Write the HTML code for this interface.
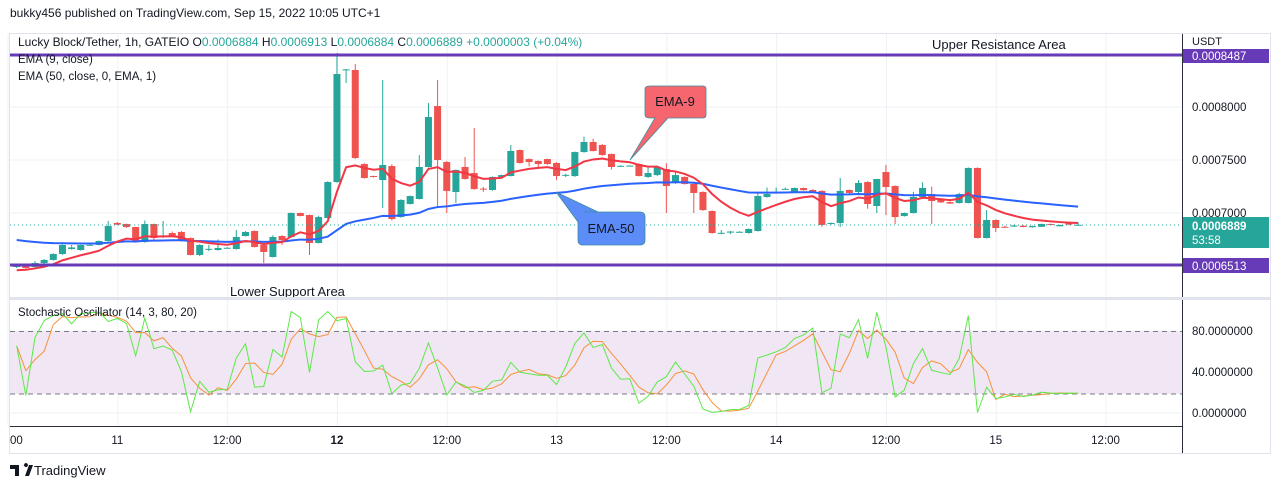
<!DOCTYPE html>
<html><head><meta charset="utf-8"><style>
html,body{margin:0;padding:0;background:#fff;width:1280px;height:489px;overflow:hidden}
svg text{font-family:"Liberation Sans","DejaVu Sans",sans-serif}
</style></head><body>
<svg id="c" width="1280" height="489" viewBox="0 0 1280 489" xmlns="http://www.w3.org/2000/svg">
<rect x="0" y="0" width="1280" height="489" fill="#fff"/>
<text x="10" y="17" font-size="12" fill="#131722">bukky456 published on TradingView.com, Sep 15, 2022 10:05 UTC+1</text>
<rect x="9.5" y="33.5" width="1261" height="420" fill="none" stroke="#e0e3eb"/>
<g id="grid"></g>
<rect x="10" y="331.5" width="1172" height="62.5" fill="#f1e6f3"/>
<line x1="10" x2="1182" y1="331.5" y2="331.5" stroke="#787b86" stroke-dasharray="5,4"/>
<line x1="10" x2="1182" y1="394" y2="394" stroke="#787b86" stroke-dasharray="5,4"/>
<g id="candles"></g>
<g id="emas"></g>
<g id="stoch"></g>
<line x1="10" x2="1182" y1="55" y2="55" stroke="#673ab7" stroke-width="3"/>
<line x1="10" x2="1182" y1="265" y2="265" stroke="#673ab7" stroke-width="3"/>
<line x1="10" x2="1182" y1="225" y2="225" stroke="#26a69a" stroke-dasharray="1,3"/>
<text x="932" y="49" font-size="13" fill="#131722">Upper Resistance Area</text>
<text x="230" y="296" font-size="13" fill="#131722">Lower Support Area</text>
<text x="18" y="46" font-size="12" fill="#131722">Lucky Block/Tether, 1h, GATEIO  O<tspan fill="#26a69a">0.0006884</tspan>  H<tspan fill="#26a69a">0.0006913</tspan>  L<tspan fill="#26a69a">0.0006884</tspan>  C<tspan fill="#26a69a">0.0006889</tspan>  <tspan fill="#26a69a">+0.0000003 (+0.04%)</tspan></text>
<text x="18" y="63" font-size="11.5" fill="#131722">EMA (9, close)</text>
<text x="18" y="80" font-size="11.5" fill="#131722">EMA (50, close, 0, EMA, 1)</text>
<text x="18" y="316" font-size="11.5" fill="#131722">Stochastic Oscillator (14, 3, 80, 20)</text>
<g>
<path d="M650,86 H703 Q706,86 706,89 V115 Q706,118 703,118 H668 L630,160 L655,118 H650 Q645,118 645,115 V89 Q645,86 650,86 Z" fill="#f5666f" stroke="#3a8fa0" stroke-width="0.8"/>
<text x="675" y="106" font-size="13" fill="#131722" text-anchor="middle">EMA-9</text></g>
<g>
<path d="M583,212 H640 Q645,212 645,217 V240 Q645,245 640,245 H583 Q578,245 578,240 V222 L556,192 L598,212 Z" fill="#5b8cf8" stroke="#3a8fa0" stroke-width="0.8"/>
<text x="611" y="233" font-size="13" fill="#131722" text-anchor="middle">EMA-50</text></g>
<line x1="1182.5" x2="1182.5" y1="34" y2="453" stroke="#2a2e39"/>
<line x1="10" x2="1270" y1="298.5" y2="298.5" stroke="#e0e3eb" stroke-width="3"/>
<line x1="10" x2="1182" y1="426.5" y2="426.5" stroke="#2a2e39"/>
<text x="1192" y="45" font-size="11" fill="#131722">USDT</text>
<g id="axes"></g>
<rect x="1183" y="49" width="86" height="14" fill="#673ab7"/>
<text x="1192" y="60" font-size="11.5" fill="#fff">0.0008487</text>
<rect x="1183" y="258" width="86" height="15" fill="#673ab7"/>
<text x="1192" y="270" font-size="11.5" fill="#fff">0.0006513</text>
<rect x="1183" y="217" width="86" height="31" fill="#26a69a"/>
<text x="1192" y="230" font-size="11.5" fill="#fff" font-weight="bold">0.0006889</text>
<text x="1192" y="244" font-size="11.5" fill="#fff">53:58</text>
<g>
<path d="M10,465 h9 v11 h-4 v-7 h-5 z M21,465 h3 a2,2 0 1 1 0,0.1 z M25,476 l4,-11 h4 l-4,11 z" fill="#131722"/>
<text x="34" y="475" font-size="13" fill="#131722">TradingView</text></g>
</svg>
<script>
// price values in units of 1e-7 USDT
const opens  = [6491,6500,6491,6528,6557,6613,6660,6651,6698,6698,6736,6906,6896,6868,6726,6896,6783,6811,6821,6764,6604,6660,6651,6670,6660,6783,6830,6698,6585,6783,6774,7000,6981,6717,6953,7292,8349,8349,7462,7349,7311,7443,6962,7085,7132,7434,8009,7481,7198,7434,7377,7230,7217,7340,7349,7594,7509,7491,7509,7472,7355,7349,7575,7670,7642,7557,7440,7445,7462,7340,7358,7415,7283,7340,7274,7198,7019,6811,6815,6821,6811,6830,7151,7198,7226,7198,7236,7217,7208,6896,6906,7217,7198,7292,7066,7387,7255,6972,7000,7151,7179,7132,7103,7094,7094,7425,6764,6934,6870,6872,6880,6866,6870,6896,6875,6906,6884];
const highs  = [6510,6505,6547,6566,6620,6705,6698,6700,6705,6740,6925,6915,6900,6870,6930,6900,6925,6825,6830,6770,6705,6698,6750,6678,6840,6830,6835,6705,6790,6790,7005,7003,6985,6975,7300,8509,8358,8406,7470,7352,8255,7460,7130,7165,7547,8038,8255,7490,7410,7528,7802,7245,7345,7362,7642,7600,7515,7495,7512,7480,7370,7580,7720,7700,7650,7560,7450,7450,7470,7440,7440,7470,7400,7345,7280,7205,7025,6840,6830,6828,6855,7200,7240,7240,7240,7240,7240,7225,7215,6910,7330,7222,7310,7300,7321,7453,7260,7005,7200,7290,7250,7140,7110,7190,7430,7430,7028,6940,6880,6890,6885,6882,6900,6900,6890,6910,6913];
const lows   = [6481,6475,6485,6520,6550,6605,6655,6645,6695,6694,6730,6885,6860,6720,6720,6736,6764,6775,6730,6600,6594,6640,6645,6665,6655,6778,6675,6528,6580,6700,6765,6968,6604,6712,6945,7285,8226,7510,7325,7335,7047,6930,6955,7080,7128,7430,7047,7000,7094,7315,7220,7200,7210,7335,7345,7465,7440,7430,7455,7310,7340,7340,7570,7580,7540,7410,7435,7440,7345,7330,7350,7000,7275,7268,7000,7020,6805,6800,6800,6815,6805,6825,7145,7190,7220,7195,7210,7190,6870,6890,6870,7180,7190,7040,7000,6981,6896,6965,6995,7145,6896,7095,7085,7090,7090,6760,6760,6820,6860,6868,6865,6862,6868,6885,6872,6885,6884];
const closes = [6500,6481,6528,6557,6613,6698,6675,6698,6700,6736,6877,6890,6868,6726,6896,6764,6788,6783,6736,6604,6698,6662,6670,6672,6774,6821,6679,6632,6774,6745,7000,6972,6717,6962,7292,8311,8355,7519,7330,7340,7453,6943,7123,7160,7434,7906,7500,7208,7406,7321,7226,7222,7340,7358,7585,7472,7481,7462,7462,7349,7360,7575,7670,7585,7547,7434,7445,7447,7349,7377,7434,7255,7358,7274,7189,7028,6811,6813,6825,6823,6849,7160,7179,7200,7228,7236,7215,7198,6887,6906,7208,7189,7283,7085,7321,7245,6962,7000,7151,7236,7113,7100,7089,7179,7425,6764,6934,6858,6868,6882,6868,6877,6896,6890,6887,6890,6889];
const priceTicks = [8000,7500,7000];
const priceTickLabels = ["0.0008000","0.0007500","0.0007000"];
const stochTicks = [80,40,0];
const stochTickLabels = ["80.0000000","40.0000000","0.0000000"];
const timeTickBars = [-1,11,23,35,47,59,71,83,95,107,119];
const timeTickLabels = ["00","11","12:00","12","12:00","13","12:00","14","12:00","15","12:00"];
const ema9Seed = 6450;
const ema50Seed = 6755;

const NS="http://www.w3.org/2000/svg";
function xAt(i){return 16.7+i*9.15;}
function yP(v){return 107+(8000-v)/9.434;}
function yS(v){return 413-v*1.025;}
function mk(tag,attrs,parent){const e=document.createElementNS(NS,tag);for(const k in attrs)e.setAttribute(k,attrs[k]);parent.appendChild(e);return e;}

const grid=document.getElementById('grid');
timeTickBars.forEach((b,k)=>{
  const l=mk('line',{x1:xAt(b)+0.5,x2:xAt(b)+0.5,y1:34,y2:426,stroke:'#eef1f5'},grid);
  
  
});
priceTicks.forEach(v=>{
  const l=mk('line',{x1:10,x2:1182,y1:yP(v),y2:yP(v),stroke:'#eef1f5'},grid);
  
  
});
stochTicks.forEach(v=>{
  const l=mk('line',{x1:10,x2:1182,y1:yS(v),y2:yS(v),stroke:'#eef1f5'},grid);
  
  
});

const axes=document.getElementById('axes');
priceTicks.forEach((v,k)=>{
  const t=mk('text',{x:1192,y:yP(v)+4,'font-size':11.5,fill:'#131722'},axes);
  t.textContent=priceTickLabels[k];
  
  
});
stochTicks.forEach((v,k)=>{
  const t=mk('text',{x:1192,y:yS(v)+4,'font-size':11.5,fill:'#131722'},axes);
  t.textContent=stochTickLabels[k];
  
  
});
timeTickBars.forEach((b,k)=>{
  const x=Math.max(xAt(b),10);
  const t=mk('text',{x:x,y:444,'font-size':11.5,fill:'#131722','text-anchor':b<0?'start':'middle','font-weight':timeTickLabels[k]==='12'?'bold':'normal'},axes);
  t.textContent=timeTickLabels[k];
  
  
});

const cg=document.getElementById('candles');
for(let i=0;i<closes.length;i++){
  const up=closes[i]>=opens[i];
  const col=up?'#26a69a':'#ef5350';
  const x=xAt(i);
  const w=mk('line',{x1:x,x2:x,y1:yP(highs[i]),y2:yP(lows[i]),stroke:col,'stroke-width':1},cg);
  
  
  const top=yP(Math.max(opens[i],closes[i])),bot=yP(Math.min(opens[i],closes[i]));
  const r=mk('rect',{x:x-3.5,y:top,width:7,height:Math.max(bot-top,1),fill:col},cg);
  
  
}

function ema(seed,n){const a=2/(n+1);let e=seed;return closes.map(c=>(e=e+a*(c-e)));}
const e9=ema(ema9Seed,9),e50=ema(ema50Seed,50);
const eg=document.getElementById('emas');
const p50=mk('polyline',{points:e50.map((v,i)=>xAt(i)+','+yP(v)).join(' '),fill:'none',stroke:'#2962ff','stroke-width':2},eg);


const p9=mk('polyline',{points:e9.map((v,i)=>xAt(i)+','+yP(v)).join(' '),fill:'none',stroke:'#f23645','stroke-width':2},eg);



// stochastic 14,3 (K raw, D = SMA3 of K)
const raw=closes.map((c,i)=>{let hh=-1e9,ll=1e9;for(let j=Math.max(0,i-13);j<=i;j++){hh=Math.max(hh,highs[j]);ll=Math.min(ll,lows[j]);}return hh===ll?50:(c-ll)/(hh-ll)*100;});
function sma(a,n){return a.map((v,i)=>{let s=0,c=0;for(let j=Math.max(0,i-n+1);j<=i;j++){s+=a[j];c++;}return s/c;});}
const kLine=raw,dLine=sma(kLine,3);
const sg=document.getElementById('stoch');
const pd=mk('polyline',{points:dLine.map((v,i)=>xAt(i)+','+yS(v)).join(' '),fill:'none',stroke:'#f7913a','stroke-width':1},sg);


const pk=mk('polyline',{points:kLine.map((v,i)=>xAt(i)+','+yS(v)).join(' '),fill:'none',stroke:'#5de84a','stroke-width':1},sg);


</script>
</body></html>
